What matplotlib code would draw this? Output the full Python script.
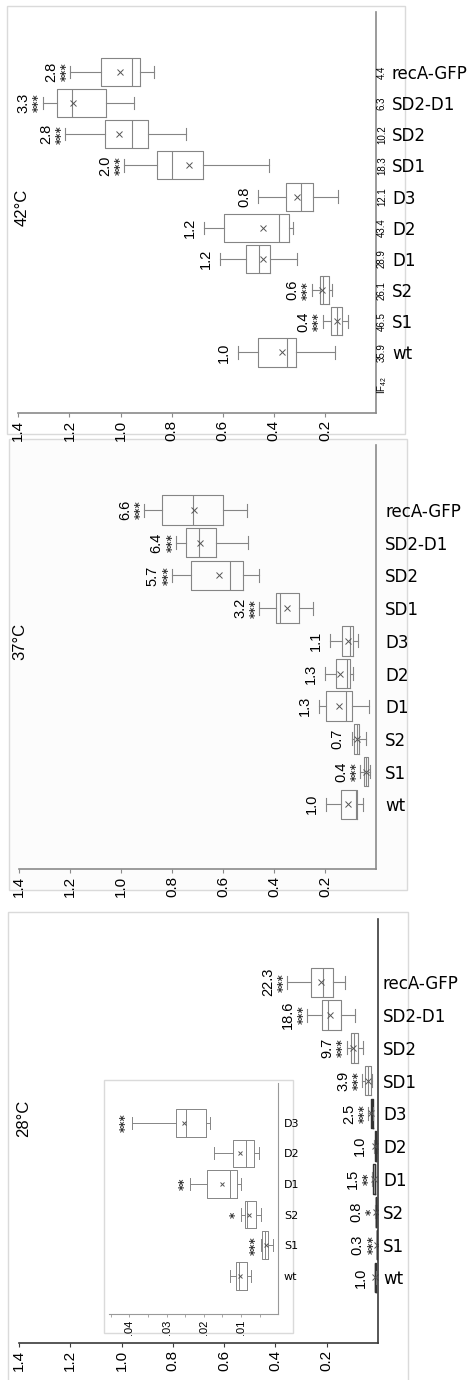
import matplotlib
matplotlib.use('Agg')
import matplotlib.pyplot as plt
from matplotlib.patches import Rectangle

plt.rcParams['font.family'] = ['Liberation Sans', 'DejaVu Sans']
plt.rcParams['mathtext.default'] = 'regular'

strains = ['wt', 'S1', 'S2', 'D1', 'D2', 'D3', 'SD1', 'SD2', 'SD2-D1', 'recA-GFP']
pos = list(range(1, 11))
ticks = [1.4, 1.2, 1.0, 0.8, 0.6, 0.4, 0.2]
tick_labels = ['1.4', '1.2', '1.0', '0.8', '0.6', '0.4', '0.2']

# 42 C
t42_hi = [0.540, 0.209, 0.252, 0.612, 0.675, 0.462, 0.987, 1.217, 1.305, 1.196]
t42_q3 = [0.460, 0.178, 0.220, 0.507, 0.596, 0.354, 0.857, 1.060, 1.249, 1.076]
t42_med = [0.348, 0.154, 0.207, 0.458, 0.379, 0.295, 0.797, 0.955, 1.190, 0.955]
t42_q1 = [0.314, 0.132, 0.183, 0.413, 0.340, 0.248, 0.677, 0.893, 1.056, 0.924]
t42_lo = [0.160, 0.111, 0.174, 0.311, 0.324, 0.150, 0.418, 0.745, 0.948, 0.867]
t42_mean = [0.366, 0.154, 0.213, 0.442, 0.442, 0.308, 0.732, 1.004, 1.187, 1.001]
fold42 = ['1.0', '0.4', '0.6', '1.2', '1.2', '0.8', '2.0', '2.8', '3.3', '2.8']
stars42 = ['', '***', '***', '', '', '', '***', '***', '***', '***']
if42 = ['35.9', '46.5', '26.1', '28.9', '43.4', '12.1', '18.3', '10.2', '6.3', '4.4']

# 37 C
t37_hi = [0.197, 0.063, 0.095, 0.224, 0.200, 0.180, 0.458, 0.801, 0.786, 0.909]
t37_q3 = [0.138, 0.047, 0.085, 0.197, 0.158, 0.132, 0.393, 0.727, 0.746, 0.841]
t37_med = [0.078, 0.040, 0.076, 0.119, 0.114, 0.102, 0.376, 0.573, 0.693, 0.720]
t37_q1 = [0.073, 0.033, 0.065, 0.093, 0.102, 0.089, 0.302, 0.523, 0.629, 0.601]
t37_lo = [0.052, 0.024, 0.039, 0.027, 0.089, 0.072, 0.246, 0.461, 0.503, 0.505]
t37_mean = [0.109, 0.040, 0.076, 0.144, 0.141, 0.111, 0.348, 0.618, 0.690, 0.714]
fold37 = ['1.0', '0.4', '0.7', '1.3', '1.3', '1.1', '3.2', '5.7', '6.4', '6.6']
stars37 = ['', '***', '', '', '', '', '***', '***', '***', '***']

# 28 C
t28_hi = [0.0129, 0.0046, 0.0100, 0.0238, 0.0174, 0.0394, 0.061, 0.122, 0.276, 0.354]
t28_q3 = [0.0114, 0.0043, 0.0089, 0.0192, 0.0122, 0.0276, 0.051, 0.105, 0.219, 0.262]
t28_med = [0.0105, 0.0037, 0.0085, 0.0131, 0.0087, 0.0248, 0.040, 0.094, 0.194, 0.216]
t28_q1 = [0.0085, 0.0027, 0.0060, 0.0112, 0.0064, 0.0195, 0.028, 0.079, 0.144, 0.174]
t28_lo = [0.0074, 0.0015, 0.0046, 0.0101, 0.0051, 0.0183, 0.022, 0.060, 0.090, 0.129]
t28_mean = [0.0102, 0.0033, 0.0078, 0.0152, 0.0103, 0.0254, 0.040, 0.097, 0.187, 0.223]
fold28 = ['1.0', '0.3', '0.8', '1.5', '1.0', '2.5', '3.9', '9.7', '18.6', '22.3']
stars28 = ['', '***', '*', '**', '', '***', '***', '***', '***', '***']
inset_ticks = [0.04, 0.03, 0.02, 0.01]
inset_labels = ['.04', '.03', '.02', '.01']

W, H = 471, 1380
BOX = '#858585'


def rect(x0, y0, x1, y1):
    return [x0 / W, 1 - y1 / H, (x1 - x0) / W, (y1 - y0) / H]


def frame(x0, y0, x1, y1, face='white'):
    r = Rectangle((x0 / W, 1 - y1 / H), (x1 - x0) / W, (y1 - y0) / H,
                  transform=fig.transFigure, facecolor=face,
                  edgecolor='#dadada', linewidth=1.0, zorder=-1)
    fig.add_artist(r)


def boxes(ax, hi, q3, med, q1, lo, mean, n, lw=0.8, ms=4):
    stats = []
    for i in range(n):
        stats.append(dict(med=med[i], q1=q1[i], q3=q3[i], whislo=lo[i],
                          whishi=hi[i], mean=mean[i], fliers=[]))
    lp = dict(color=BOX, linewidth=lw)
    return ax.bxp(stats, positions=pos[:n], widths=0.9, orientation='horizontal',
                  showmeans=True, manage_ticks=False, capwidths=0.4,
                  boxprops=lp, whiskerprops=lp, capprops=lp, medianprops=lp,
                  meanprops=dict(marker='x', markeredgecolor='#555555',
                                 markersize=ms, markeredgewidth=0.7))


def marks(ax, hi, folds, stars, fs=10.5, d_star=4, d_num_s=19, d_num=14):
    for i in range(len(folds)):
        y = pos[i]
        if stars[i]:
            ax.annotate(stars[i], (hi[i], y), xytext=(-d_star, 0),
                        textcoords='offset pixels', rotation=90,
                        ha='center', va='center', fontsize=8.5,
                        fontweight='bold', fontfamily='DejaVu Sans',
                        color='#333333')
            d = d_num_s
        else:
            d = d_num
        if folds[i]:
            ax.annotate(folds[i], (hi[i], y), xytext=(-d, 0),
                        textcoords='offset pixels', rotation=90,
                        ha='center', va='center', fontsize=fs)


def style(ax, spine_col, pad):
    ax.set_facecolor('none')
    ax.set_xlim(1.4, 0)
    ax.set_ylim(-0.95, 11.93)
    for s in ['top', 'left']:
        ax.spines[s].set_visible(False)
    for s in ['right', 'bottom']:
        ax.spines[s].set_color(spine_col)
        ax.spines[s].set_linewidth(1.2)
    ax.set_xticks(ticks)
    ax.set_xticklabels(tick_labels)
    ax.tick_params(axis='x', labelrotation=90, length=3, width=0.8,
                   color=spine_col, pad=2, labelsize=11)
    ax.yaxis.tick_right()
    ax.set_yticks(pos)
    ax.set_yticklabels(strains, fontfamily='DejaVu Sans', fontsize=12)
    ax.tick_params(axis='y', length=0, pad=pad)


fig = plt.figure(figsize=(W / 100, H / 100), dpi=100)

frame(7.3, 6, 405, 434)
frame(9, 439, 407, 890, face='#fcfcfc')
frame(8, 912, 408, 1390)

# 42 C
ax1 = fig.add_axes(rect(18.3, 11.7, 376, 413.3))
boxes(ax1, t42_hi, t42_q3, t42_med, t42_q1, t42_lo, t42_mean, 10)
style(ax1, '#8a8a8a', 11.5)
marks(ax1, t42_hi, fold42, stars42)
for i in range(10):
    ax1.annotate(if42[i], (0, pos[i]), xytext=(6, 0), textcoords='offset pixels',
                 rotation=90, ha='center', va='center', fontsize=7,
                 annotation_clip=False)
ax1.annotate('IF$_{42}$', (0, -0.05), xytext=(6, 0), textcoords='offset pixels',
             rotation=90, ha='center', va='center', fontsize=7,
             annotation_clip=False)
fig.text(22 / W, 1 - 207 / H, '42°C', rotation=90, ha='center', va='center',
         fontsize=12)

# 37 C
ax2 = fig.add_axes(rect(19.3, 445, 376, 869))
boxes(ax2, t37_hi, t37_q3, t37_med, t37_q1, t37_lo, t37_mean, 10)
style(ax2, '#8a8a8a', 6.5)
ax2.set_ylim(-0.98, 11.99)
marks(ax2, t37_hi, fold37, stars37)
fig.text(20 / W, 1 - 641 / H, '37°C', rotation=90, ha='center', va='center',
         fontsize=12)

# 28 C
ax3 = fig.add_axes(rect(19, 919, 378, 1343))
parts = boxes(ax3, t28_hi, t28_q3, t28_med, t28_q1, t28_lo, t28_mean, 10)
# the tiny boxes collapse into dark strokes at this scale
for i in range(6):
    for ln in [parts['boxes'][i], parts['medians'][i]]:
        ln.set_color('#333333')
        ln.set_linewidth(1.0)
style(ax3, '#3a3a3a', 3.6)
ax3.set_ylim(-1.0, 11.93)
marks(ax3, t28_hi, fold28, stars28)
fig.text(24 / W, 1 - 1118 / H, '28°C', rotation=90, ha='center', va='center',
         fontsize=12)

# inset with the small values at 28 C
frame(104, 1080, 293, 1333)
ax4 = fig.add_axes(rect(109, 1083, 278.3, 1314))
boxes(ax4, t28_hi, t28_q3, t28_med, t28_q1, t28_lo, t28_mean, 6, lw=0.7, ms=3)
ax4.set_facecolor('none')
ax4.set_xlim(0.0455, 0)
ax4.set_ylim(-0.25, 7.3)
for s in ['top', 'left']:
    ax4.spines[s].set_visible(False)
for s in ['right', 'bottom']:
    ax4.spines[s].set_color('#999999')
    ax4.spines[s].set_linewidth(0.8)
ax4.set_xticks(inset_ticks)
ax4.set_xticklabels(inset_labels)
ax4.set_xticks([0.045, 0.035, 0.025, 0.015, 0.005], minor=True)
ax4.tick_params(axis='x', which='both', labelrotation=90, length=2, width=0.6,
                color='#999999', pad=2, labelsize=8)
ax4.yaxis.tick_right()
ax4.set_yticks(pos[:6])
ax4.set_yticklabels(strains[:6], fontfamily='DejaVu Sans', fontsize=8)
ax4.tick_params(axis='y', length=0, pad=4)
marks(ax4, t28_hi, ['', '', '', '', '', ''], stars28[:6], d_star=6)

fig.savefig('out.png', dpi=100)
